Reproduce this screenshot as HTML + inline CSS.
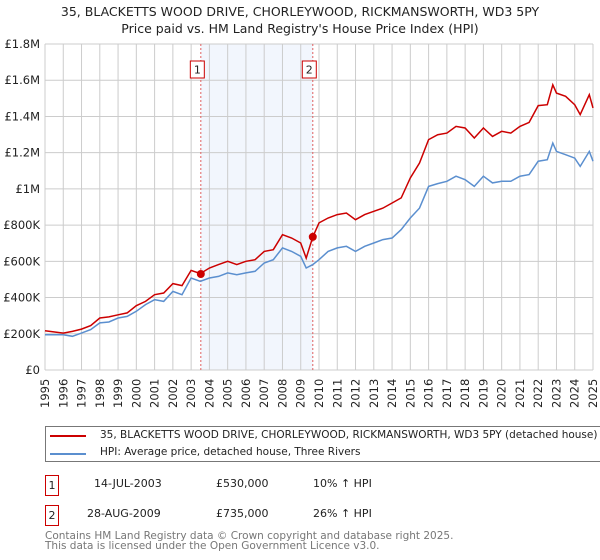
<!DOCTYPE html>
<html><head><meta charset="utf-8"><style>
body{margin:0;background:#fff;font-family:"DejaVu Sans",sans-serif;}
#wrap{position:relative;width:600px;height:560px;overflow:hidden}
.t{position:absolute;white-space:nowrap}
</style></head><body><div id="wrap">
<div class="t" style="left:0;width:600px;text-align:center;top:3px;font-size:12.5px;line-height:17px;color:#222">35, BLACKETTS WOOD DRIVE, CHORLEYWOOD, RICKMANSWORTH, WD3 5PY<br>Price paid vs. HM Land Registry's House Price Index (HPI)</div>
<svg id="chart" width="600" height="420" style="position:absolute;left:0;top:0"></svg>
<div class="t" style="left:45px;top:426px;width:557px;height:34px;border:1px solid #777;font-size:10.5px;color:#222">
<div style="position:absolute;left:4px;top:8px;width:36px;height:2px;background:#cc0000"></div><div class="t" style="left:54px;top:2px">35, BLACKETTS WOOD DRIVE, CHORLEYWOOD, RICKMANSWORTH, WD3 5PY (detached house)</div>
<div style="position:absolute;left:4px;top:26px;width:36px;height:2px;background:#5b8fcf"></div><div class="t" style="left:54px;top:19px">HPI: Average price, detached house, Three Rivers</div>
</div>
<div style="font-size:11px;color:#222">
<div class="t" style="left:45px;top:475px;width:12px;height:19px;border:1px solid #cc0000;text-align:center;line-height:19px">1</div>
<div class="t" style="left:94px;top:477px">14-JUL-2003</div><div class="t" style="left:216px;top:477px">£530,000</div><div class="t" style="left:313px;top:477px">10% ↑ HPI</div></div>
<div style="font-size:11px;color:#222">
<div class="t" style="left:45px;top:505px;width:12px;height:19px;border:1px solid #cc0000;text-align:center;line-height:19px">2</div>
<div class="t" style="left:87px;top:507px">28-AUG-2009</div><div class="t" style="left:216px;top:507px">£735,000</div><div class="t" style="left:313px;top:507px">26% ↑ HPI</div></div>
<div class="t" style="left:45px;top:531px;font-size:10.5px;line-height:10px;color:#777">Contains HM Land Registry data © Crown copyright and database right 2025.<br>This data is licensed under the Open Government Licence v3.0.</div>
</div>
<script>
const yearTicks=[1995,1996,1997,1998,1999,2000,2001,2002,2003,2004,2005,2006,2007,2008,2009,2010,2011,2012,2013,2014,2015,2016,2017,2018,2019,2020,2021,2022,2023,2024,2025];
const valueTicks=[0,200,400,600,800,1000,1200,1400,1600,1800];
const valueTickLabels=["£0","£200K","£400K","£600K","£800K","£1M","£1.2M","£1.4M","£1.6M","£1.8M"];
const priceYears=[1995,1996,1996.5,1997,1997.5,1998,1998.5,1999,1999.5,2000,2000.5,2001,2001.5,2002,2002.5,2003,2003.5,2004,2004.5,2005,2005.5,2006,2006.5,2007,2007.5,2008,2008.5,2009,2009.3,2009.66,2010,2010.5,2011,2011.5,2012,2012.5,2013,2013.5,2014,2014.5,2015,2015.5,2016,2016.5,2017,2017.5,2018,2018.5,2019,2019.5,2020,2020.5,2021,2021.5,2022,2022.5,2022.8,2023,2023.5,2024,2024.3,2024.8,2025];
const priceValues=[217,204,213,226,245,287,293,305,315,355,379,416,425,477,466,550,532,563,582,600,582,600,609,655,664,747,729,701,618,735,812,839,858,867,830,858,876,894,922,950,1060,1143,1272,1299,1308,1345,1336,1281,1336,1290,1318,1308,1345,1367,1460,1465,1575,1529,1511,1465,1410,1520,1447];
const hpiValues=[195,195,186,204,223,260,265,287,296,324,361,388,379,434,416,508,490,508,517,536,526,536,545,591,609,674,655,628,563,582,609,655,674,683,655,683,701,720,729,775,839,894,1014,1029,1042,1070,1051,1014,1070,1033,1042,1042,1070,1079,1153,1161,1253,1207,1189,1170,1124,1207,1153];
const saleYears=[2003.53,2009.66];
const saleValues=[530,735];
const saleLabels=["1","2"];
const svg=document.getElementById('chart');const NS='http://www.w3.org/2000/svg';
const X0=45,X1=593,Y0=370,Y1=44;
const xs=y=>X0+(y-1995)/30*(X1-X0);
const ys=v=>Y0-v/1800*(Y0-Y1);
function mk(t,a){const e=document.createElementNS(NS,t);for(const k in a)e.setAttribute(k,a[k]);svg.appendChild(e);return e;}
const sh=mk('rect',{x:xs(saleYears[0]),y:Y1,width:xs(saleYears[1])-xs(saleYears[0]),height:Y0-Y1,fill:'#f2f6fd'});


yearTicks.forEach(y=>{const l=mk('line',{x1:xs(y),x2:xs(y),y1:Y1,y2:Y0,stroke:'#ccc','stroke-width':1});


const t=mk('text',{x:0,y:0,transform:`translate(${xs(y)+4},${Y0+38}) rotate(-90)`,'font-size':11.5,fill:'#222','font-family':'DejaVu Sans'});t.textContent=y;

});
valueTicks.forEach((v,i)=>{const l=mk('line',{x1:X0,x2:X1,y1:ys(v),y2:ys(v),stroke:'#ccc','stroke-width':1});


const t=mk('text',{x:X0-5,y:ys(v)+4,'text-anchor':'end','font-size':11.5,fill:'#222','font-family':'DejaVu Sans'});t.textContent=valueTickLabels[i];

});
saleYears.forEach((y,i)=>{const l=mk('line',{x1:xs(y),x2:xs(y),y1:Y1,y2:Y0,stroke:'#e06060','stroke-width':1,'stroke-dasharray':'2,2'});


const r=mk('rect',{x:xs(y)-10.5,y:61,width:14,height:17,fill:'#fff',stroke:'#cc0000'});


const t=mk('text',{x:xs(y)-3.5,y:73.5,'text-anchor':'middle','font-size':11,fill:'#222','font-family':'DejaVu Sans'});t.textContent=saleLabels[i];

});
const pts=a=>priceYears.map((y,i)=>xs(y).toFixed(1)+','+ys(a[i]).toFixed(1)).join(' ');
const hl=mk('polyline',{points:pts(hpiValues),fill:'none',stroke:'#5b8fcf','stroke-width':1.5});


const pl=mk('polyline',{points:pts(priceValues),fill:'none',stroke:'#cc0000','stroke-width':1.5});


saleYears.forEach((y,i)=>{const c=mk('circle',{cx:xs(y),cy:ys(saleValues[i]),r:4,fill:'#cc0000'});

});
</script></body></html>
